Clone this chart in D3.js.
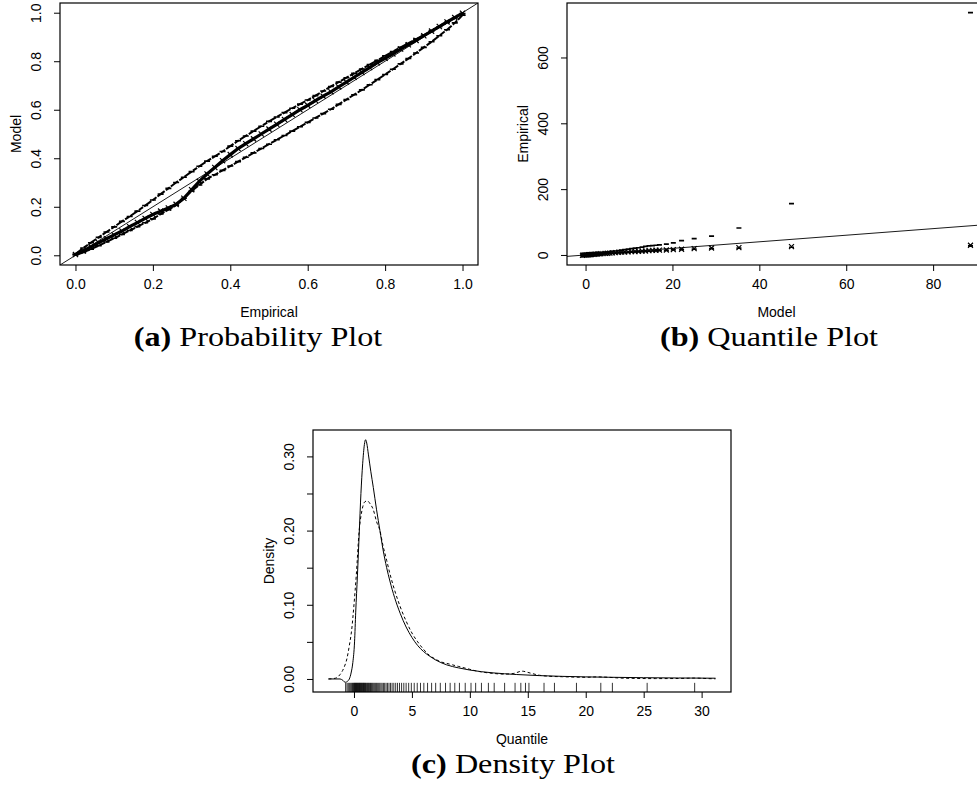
<!DOCTYPE html>
<html>
<head>
<meta charset="utf-8">
<script src="https://cdn.jsdelivr.net/npm/d3@7"></script>
<style>
  body { margin: 0; background: #fff; }
  svg { display: block; }
  .lab { font-family: "Liberation Sans", Arial, Helvetica, sans-serif; font-size: 14px; fill: #000; }
  .cap { font-family: "Liberation Serif", "Times New Roman", serif; font-size: 28px; fill: #000; }
</style>
</head>
<body>
<svg id="fig" width="977" height="801"></svg>
<script>
// ---------- (a) probability plot: empirical vs model probabilities ----------
const ppEmpirical = [0.00,0.02,0.04,0.06,0.08,0.10,0.12,0.14,0.16,0.18,0.20,0.22,0.24,0.26,0.28,0.30,0.32,0.34,0.36,0.38,0.40,0.42,0.44,0.46,0.48,0.50,0.52,0.54,0.56,0.58,0.60,0.62,0.64,0.66,0.68,0.70,0.72,0.74,0.76,0.78,0.80,0.82,0.84,0.86,0.88,0.90,0.92,0.94,0.96,0.98,1.00];
const ppUpper = [0.005,0.030,0.052,0.074,0.096,0.117,0.140,0.160,0.182,0.205,0.228,0.252,0.276,0.300,0.322,0.345,0.367,0.388,0.408,0.428,0.450,0.472,0.492,0.512,0.532,0.552,0.570,0.588,0.606,0.623,0.640,0.658,0.677,0.696,0.714,0.732,0.750,0.768,0.786,0.804,0.822,0.840,0.857,0.874,0.891,0.908,0.925,0.942,0.960,0.978,0.997];
const ppModel = [0.003,0.018,0.035,0.052,0.068,0.084,0.100,0.118,0.135,0.152,0.168,0.182,0.195,0.210,0.235,0.270,0.305,0.335,0.362,0.390,0.415,0.440,0.460,0.480,0.500,0.520,0.540,0.560,0.580,0.600,0.618,0.638,0.656,0.674,0.694,0.714,0.734,0.754,0.774,0.794,0.812,0.830,0.850,0.868,0.886,0.905,0.924,0.943,0.962,0.980,0.998];
const ppLower = [0.001,0.012,0.025,0.040,0.055,0.070,0.086,0.102,0.118,0.134,0.150,0.170,0.188,0.207,0.235,0.265,0.290,0.315,0.332,0.350,0.368,0.386,0.404,0.422,0.440,0.458,0.476,0.494,0.512,0.530,0.548,0.566,0.584,0.602,0.622,0.642,0.662,0.682,0.703,0.724,0.745,0.767,0.789,0.811,0.834,0.857,0.880,0.905,0.930,0.958,0.990];
const ppTicks = [0, 0.2, 0.4, 0.6, 0.8, 1.0];

// ---------- (b) quantile plot: model vs empirical quantiles ----------
const qqModel =    [-0.7,-0.4,-0.15,0.1,0.3,0.5,0.7,0.9,1.15,1.4,1.7,2.0,2.35,2.7,3.1,3.5,4.0,4.5,5.0,5.6,6.2,6.9,7.6,8.3,9.0,9.8,10.6,11.4,12.2,13.0,13.8,14.6,15.4,16.2,17.0,18.6,20.2,22.1,25.0,29.0,35.3,47.4,88.6];
const qqObserved = [-0.72,-0.41,-0.18,0.04,0.27,0.49,0.71,0.95,1.24,1.5,1.8,2.14,2.54,2.89,3.29,3.76,4.3,4.72,5.2,5.74,6.35,7.05,7.9,8.7,9.1,9.6,10.1,10.5,11.0,11.6,12.1,13.0,13.9,14.4,14.8,15.1,16.4,17.3,19.2,21.3,22.3,25.3,29.4];
const qqUpper =    [-0.4,-0.1,0.2,0.5,0.8,1.1,1.4,1.7,2.1,2.5,3.0,3.5,4.1,4.7,5.3,6.0,6.8,7.7,8.6,9.7,10.8,12.0,13.2,14.6,16.0,17.5,19.0,20.5,22.0,24.0,26.0,27.5,28.5,29.5,30.5,33.0,36.5,43.5,49.6,57.0,82.0,156.0,736.0];
const qqLower =    [-1.0,-0.7,-0.45,-0.2,0.0,0.15,0.3,0.5,0.7,0.9,1.1,1.4,1.7,2.0,2.3,2.7,3.1,3.5,3.9,4.4,4.9,5.5,6.0,6.6,7.2,7.8,8.4,9.0,9.6,10.2,10.8,11.4,12.0,12.6,13.2,14.2,15.2,16.3,17.8,19.5,21.0,23.5,27.5];
const qqXTicks = [0, 20, 40, 60, 80];
const qqYTicks = [0, 200, 400, 600];

// ---------- (c) density plot ----------
const densModelX = [-2.2,-1.2,-0.95,-0.75,-0.55,-0.4,-0.25,-0.1,0.05,0.15,0.3,0.45,0.6,0.75,0.9,1.0,1.1,1.25,1.45,1.67,1.95,2.24,2.5,2.82,3.1,3.5,4.0,4.5,5.0,5.5,6.0,6.5,7.0,8.0,9.0,10,11,12,13,14,16,18,20,22,25,28,31.2];
const densModelY = [0,0,-0.002,-0.0045,-0.003,0,0.008,0.022,0.05,0.09,0.14,0.195,0.25,0.29,0.316,0.3225,0.318,0.302,0.28,0.258,0.228,0.2,0.175,0.15,0.132,0.11,0.088,0.07,0.056,0.045,0.037,0.031,0.026,0.019,0.015,0.012,0.0098,0.0082,0.007,0.006,0.0045,0.0035,0.0028,0.0023,0.0017,0.0013,0.001];
const densEmpX = [-2.2,-1.6,-1.2,-0.9,-0.6,-0.4,-0.2,0,0.2,0.45,0.7,0.95,1.15,1.4,1.67,1.95,2.24,2.5,2.82,3.1,3.5,4.0,4.5,5.0,5.5,6.0,6.5,7.0,7.5,8.0,8.5,9.0,9.5,10,10.5,11,12,13,13.8,14.5,15.2,16,17,18,19,20,21,22,23,24,26,28,29.4,30.5,31.2];
const densEmpY = [0,0.001,0.006,0.014,0.028,0.045,0.066,0.1,0.14,0.2,0.228,0.239,0.24,0.236,0.228,0.212,0.2,0.18,0.16,0.142,0.12,0.097,0.078,0.062,0.05,0.04,0.032,0.027,0.023,0.021,0.019,0.017,0.015,0.013,0.011,0.0095,0.0075,0.0065,0.0075,0.0105,0.008,0.005,0.0035,0.003,0.0025,0.0022,0.0028,0.0022,0.0012,0.0008,0.0005,0.0006,0.0012,0.0005,0.0002];
const rugValues = [-0.72,-0.6,-0.5,-0.41,-0.33,-0.25,-0.18,-0.12,-0.05,0.0,0.04,0.09,0.13,0.18,0.22,0.27,0.31,0.36,0.4,0.45,0.49,0.53,0.58,0.62,0.67,0.71,0.76,0.81,0.85,0.9,0.95,1.0,1.06,1.12,1.18,1.24,1.3,1.36,1.43,1.5,1.57,1.64,1.72,1.8,1.88,1.96,2.05,2.14,2.23,2.33,2.43,2.54,2.65,2.77,2.89,3.02,3.15,3.29,3.44,3.6,3.76,3.93,4.11,4.3,4.5,4.72,4.95,5.2,5.46,5.74,6.03,6.35,6.7,7.05,7.45,7.9,8.3,8.7,9.1,9.6,10.1,10.5,11.0,11.6,12.1,13.0,13.9,14.4,14.8,15.1,16.4,17.3,19.2,21.3,22.3,25.3,29.4];
const densXTicks = [0, 5, 10, 15, 20, 25, 30];
const densYTicks = [0, 0.05, 0.10, 0.15, 0.20, 0.25, 0.30];

// ---------- drawing ----------
const svg = d3.select("#fig");
const FONT = '"Liberation Sans", Arial, Helvetica, sans-serif';

// R-style 4% range extension
const extend = ([a, b]) => { const r = b - a; return [a - 0.04 * r, b + 0.04 * r]; };

function makePanel(id, box, xDom, yDom) {
  const x = d3.scaleLinear().domain(xDom).range([box.x0, box.x1]);
  const y = d3.scaleLinear().domain(yDom).range([box.y1, box.y0]);
  svg.append("clipPath").attr("id", id)
    .append("rect").attr("x", box.x0).attr("y", box.y0)
    .attr("width", box.x1 - box.x0).attr("height", box.y1 - box.y0);
  const g = svg.append("g");
  return { x, y, g, box, clip: `url(#${id})` };
}

function drawFrame(p, xTicks, yTicks, xFmt, yFmt, xTitle, yTitle) {
  const { x, y, g, box } = p;
  // bottom axis
  const ax = g.append("g").attr("transform", `translate(0,${box.y1})`)
    .call(d3.axisBottom(x).tickValues(xTicks).tickFormat(xFmt).tickSize(6).tickPadding(8));
  ax.attr("font-size", 14).attr("font-family", FONT);
  ax.select(".domain").remove();
  ax.selectAll(".tick line").attr("stroke", "#000");
  ax.selectAll("text").attr("fill", "#000");
  // left axis, labels parallel to the axis
  const ay = g.append("g").attr("transform", `translate(${box.x0},0)`)
    .call(d3.axisLeft(y).tickValues(yTicks).tickFormat(yFmt).tickSize(6));
  ay.attr("font-size", 14).attr("font-family", FONT);
  ay.select(".domain").remove();
  ay.selectAll(".tick line").attr("stroke", "#000");
  ay.selectAll("text").attr("fill", "#000").attr("x", null).attr("dy", null)
    .attr("text-anchor", "middle").attr("transform", "translate(-19,0) rotate(-90)");
  // box
  g.append("rect").attr("x", box.x0).attr("y", box.y0)
    .attr("width", box.x1 - box.x0).attr("height", box.y1 - box.y0)
    .attr("fill", "none").attr("stroke", "#000").attr("stroke-width", 1.2);
  // titles
  g.append("text").attr("class", "lab").attr("text-anchor", "middle")
    .attr("x", (box.x0 + box.x1) / 2).attr("y", box.y1 + 52).text(xTitle);
  g.append("text").attr("class", "lab").attr("text-anchor", "middle")
    .attr("transform", `translate(${box.x0 - 39},${(box.y0 + box.y1) / 2}) rotate(-90)`).text(yTitle);
}

// "-" point symbols
function dashMarks(p, xs, ys, w, sw) {
  p.g.append("path").attr("fill", "none").attr("stroke", "#000").attr("stroke-width", sw)
    .attr("d", xs.map((v, i) => `M${p.x(v) - w / 2},${p.y(ys[i])}h${w}`).join(""));
}
// "x" point symbols
function crossMarks(p, xs, ys, s) {
  p.g.append("path").attr("fill", "none").attr("stroke", "#000").attr("stroke-width", 1.2)
    .attr("d", xs.map((v, i) => {
      const cx = p.x(v), cy = p.y(ys[i]);
      return `M${cx - s},${cy - s}L${cx + s},${cy + s}M${cx - s},${cy + s}L${cx + s},${cy - s}`;
    }).join(""));
}
// band traced through a series, drawn as a broken heavy stroke
function band(p, xs, ys, sw, dash) {
  p.g.append("path").attr("fill", "none").attr("stroke", "#000").attr("stroke-width", sw)
    .attr("stroke-dasharray", dash)
    .attr("d", d3.line().x((d, i) => p.x(xs[i])).y(d => p.y(d))(ys));
}
function caption(cx, y, tag, rest) {
  const t = svg.append("text").attr("class", "cap").attr("text-anchor", "middle")
    .attr("transform", `translate(${cx},${y}) scale(1.15,1)`);
  t.append("tspan").attr("font-weight", "bold").text(tag);
  t.append("tspan").text(" " + rest);
}

// (a)
{
  const p = makePanel("clipA", { x0: 60, x1: 478, y0: 3, y1: 265 }, extend([0, 1]), extend([0, 1]));
  p.g.append("line").attr("clip-path", p.clip)
    .attr("x1", p.x(-0.1)).attr("y1", p.y(-0.1)).attr("x2", p.x(1.1)).attr("y2", p.y(1.1))
    .attr("stroke", "#000").attr("stroke-width", 0.9);
  band(p, ppEmpirical, ppUpper, 2.0, "9,1.5,5,1.2");
  band(p, ppEmpirical, ppLower, 2.0, "8,1.5,6,1.2");
  dashMarks(p, ppEmpirical, ppUpper, 6, 1.6);
  dashMarks(p, ppEmpirical, ppLower, 6, 1.6);
  band(p, ppEmpirical, ppModel, 3.2, null);
  crossMarks(p, ppEmpirical, ppModel, 2.6);
  drawFrame(p, ppTicks, ppTicks, d3.format(".1f"), d3.format(".1f"), "Empirical", "Model");
  caption(258, 346, "(a)", "Probability Plot");
}

// (b)
{
  const yAll = qqObserved.concat(qqUpper, qqLower);
  const p = makePanel("clipB", { x0: 567, x1: 986, y0: 3, y1: 265 },
    extend(d3.extent(qqModel)), extend(d3.extent(yAll)));
  p.g.append("line").attr("clip-path", p.clip)
    .attr("x1", p.x(-10)).attr("y1", p.y(-10)).attr("x2", p.x(100)).attr("y2", p.y(100))
    .attr("stroke", "#000").attr("stroke-width", 0.9);
  dashMarks(p, qqModel, qqUpper, 5, 1.7);
  dashMarks(p, qqModel, qqLower, 5, 1.7);
  crossMarks(p, qqModel, qqObserved, 2.5);
  drawFrame(p, qqXTicks, qqYTicks, d3.format("d"), d3.format("d"), "Model", "Empirical");
  caption(769, 346, "(b)", "Quantile Plot");
}

// (c)
{
  const yAll = densModelY.concat(densEmpY);
  const p = makePanel("clipC", { x0: 313, x1: 731, y0: 430, y1: 692 },
    extend(d3.extent(densModelX.concat(densEmpX))), extend(d3.extent(yAll)));
  const line = (xs) => d3.line().curve(d3.curveMonotoneX).x((d, i) => p.x(xs[i])).y(d => p.y(d));
  p.g.append("path").attr("fill", "none").attr("stroke", "#000").attr("stroke-width", 1)
    .attr("d", line(densModelX)(densModelY));
  p.g.append("path").attr("fill", "none").attr("stroke", "#000").attr("stroke-width", 1)
    .attr("stroke-dasharray", "3,2.5").attr("d", line(densEmpX)(densEmpY));
  // rug along the bottom edge
  const tick = 0.035 * (p.box.y1 - p.box.y0);
  p.g.append("path").attr("fill", "none").attr("stroke", "#000").attr("stroke-width", 0.8)
    .attr("d", rugValues.map(v => `M${p.x(v)},${p.box.y1}v${-tick}`).join(""));
  drawFrame(p, densXTicks, densYTicks, d3.format("d"),
    d => (Math.round(d * 100) % 10 === 0 ? d3.format(".2f")(d) : ""), "Quantile", "Density");
  caption(513, 773, "(c)", "Density Plot");
}
</script>
</body>
</html>
